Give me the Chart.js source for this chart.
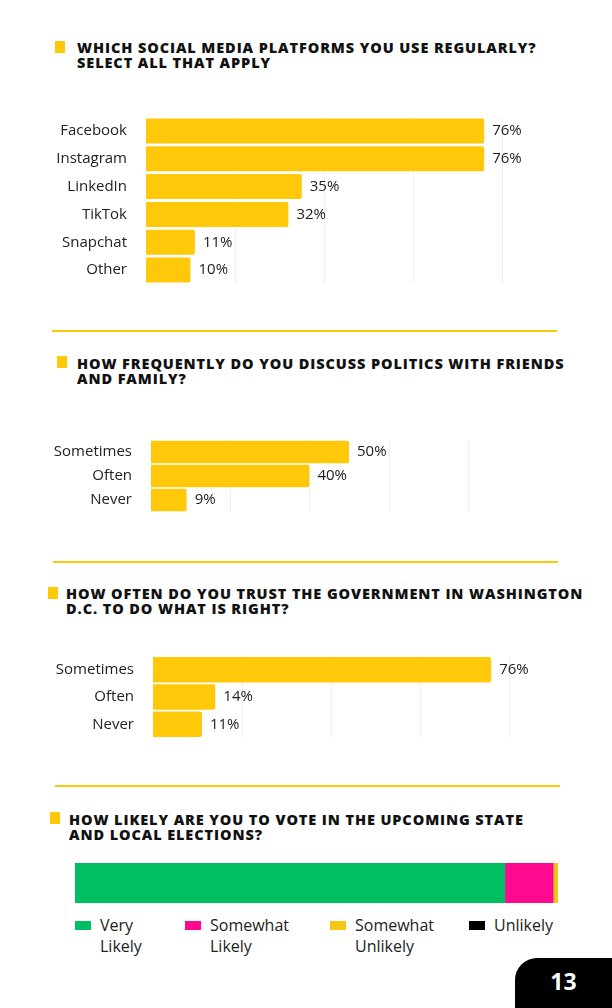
<!DOCTYPE html><html><head><meta charset="utf-8">
<script src="https://cdn.jsdelivr.net/npm/chart.js@4"></script>
<style>
body{margin:0;width:612px;height:1008px;position:relative;background:#fff;font-family:"Open Sans",sans-serif;overflow:hidden}
.t{position:absolute;font-weight:800;font-size:14.5px;line-height:15px;color:#111;letter-spacing:0.9px;font-family:"Open Sans",sans-serif;white-space:nowrap}
.m{position:absolute;width:10px;height:12px;background:#FFC90A}
.sep{position:absolute;height:2px;background:#FFC90A}
canvas{position:absolute}
.lg{position:absolute;font-size:16px;line-height:21px;color:#222;top:915px}
.sw{position:absolute;width:16px;height:9px;top:921px}
#pg{position:absolute;left:515px;top:958px;width:97px;height:50px;background:#000;border-top-left-radius:22px;color:#fff;font-weight:700;font-size:23px;text-align:center;line-height:46px;font-family:"Open Sans"}
</style></head><body>
<div class="m" style="left:55px;top:41px"></div><div class="t" style="left:77px;top:40px">WHICH SOCIAL MEDIA PLATFORMS YOU USE REGULARLY?<br>SELECT ALL THAT APPLY</div>
<canvas id="c1" style="left:40px;top:97px;width:551px;height:207px" width="551" height="207"></canvas>
<div class="sep" style="left:52px;top:330px;width:505px"></div>
<div class="m" style="left:57px;top:356px"></div><div class="t" style="left:77px;top:356px">HOW FREQUENTLY DO YOU DISCUSS POLITICS WITH FRIENDS<br>AND FAMILY?</div>
<canvas id="c2" style="left:40px;top:420px;width:507px;height:112px" width="507" height="112"></canvas>
<div class="sep" style="left:53px;top:561px;width:505px"></div>
<div class="m" style="left:48px;top:587px"></div><div class="t" style="left:66px;top:586px">HOW OFTEN DO YOU TRUST THE GOVERNMENT IN WASHINGTON<br>D.C. TO DO WHAT IS RIGHT?</div>
<canvas id="c3" style="left:40px;top:636px;width:558px;height:122px" width="558" height="122"></canvas>
<div class="sep" style="left:55px;top:785px;width:505px"></div>
<div class="m" style="left:50px;top:812px"></div><div class="t" style="left:69px;top:812px">HOW LIKELY ARE YOU TO VOTE IN THE UPCOMING STATE<br>AND LOCAL ELECTIONS?</div>
<canvas id="c4" style="left:75px;top:863px;width:483px;height:40px" width="483" height="40"></canvas>
<div id="legend"></div>
<div id="pg">13</div>
<script>
const platforms=["Facebook","Instagram","LinkedIn","TikTok","Snapchat","Other"];
const platformValues=[76,76,35,32,11,10];
const freqCats=["Sometimes","Often","Never"];
const freqValues=[50,40,9];
const trustCats=["Sometimes","Often","Never"];
const trustValues=[76,14,11];
const gridSteps=[20,40,60,80];
const voteCats=["Very\nLikely","Somewhat\nLikely","Somewhat\nUnlikely","Unlikely"];
const voteValues=[89,10,1,0];
const voteColors=["#00BF63","#FF0A8F","#F5C518","#000000"];
const YEL="#FFC90A";
const labelPlugin={id:'lbl',
 beforeDatasetsDraw(ch){const c=ch.ctx,a=ch.chartArea,x=ch.scales.x;c.save();c.strokeStyle='#f0f0f0';c.lineWidth=1;
  gridSteps.forEach(v=>{const px=Math.round(x.getPixelForValue(v))+0.5;c.beginPath();c.moveTo(px,a.top);c.lineTo(px,a.bottom);c.stroke();});c.restore();},
 afterDatasetsDraw(ch){const c=ch.ctx;c.save();c.font='15px "Open Sans"';c.fillStyle='#222';c.textBaseline='middle';
 ch.getDatasetMeta(0).data.forEach((b,i)=>{c.fillText(ch.data.datasets[0].data[i]+'%',b.x+8,b.y);});c.restore();}};
function bar(id,cats,vals,axisW,bp){
 new Chart(document.getElementById(id),{type:'bar',data:{labels:cats,datasets:[{data:vals,backgroundColor:YEL,barPercentage:bp,categoryPercentage:1,borderRadius:2}]},
 options:{indexAxis:'y',responsive:false,animation:false,layout:{padding:0},plugins:{legend:{display:false},tooltip:{enabled:false}},
 scales:{x:{min:0,max:100,display:false},
 y:{afterFit(s){s.width=axisW;},grid:{display:false},border:{display:false},ticks:{color:'#222',padding:11,font:{size:15,family:'Open Sans'}}}}},plugins:[labelPlugin]});
}
bar('c1',platforms,platformValues,106,0.9);
bar('c2',freqCats,freqValues,111,0.93);
bar('c3',trustCats,trustValues,113,0.93);
new Chart(document.getElementById('c4'),{type:'bar',data:{labels:[''],datasets:voteCats.map((n,i)=>({label:n,data:[voteValues[i]],backgroundColor:voteColors[i],barPercentage:1,categoryPercentage:1}))},
 options:{indexAxis:'y',responsive:false,animation:false,layout:{padding:0},plugins:{legend:{display:false},tooltip:{enabled:false}},
 scales:{x:{stacked:true,min:0,max:100,display:false},y:{stacked:true,display:false}}}});
const lx=[75,185,330,469];
document.getElementById('legend').innerHTML=voteCats.map((n,i)=>`<div class="sw" style="left:${lx[i]}px;background:${voteColors[i]}"></div><div class="lg" style="left:${lx[i]+25}px">${n.replace('\n','<br>')}</div>`).join('');
</script></body></html>
